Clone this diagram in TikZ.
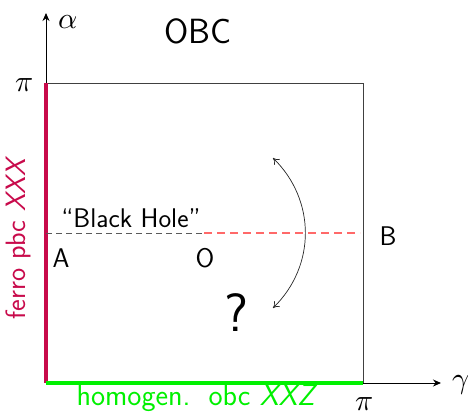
\documentclass[tikz,border=0pt]{standalone}
\usepackage{fontspec}
\usepackage{unicode-math}
\usetikzlibrary{arrows.meta}
\definecolor{ferro}{RGB}{200,10,75}
\definecolor{bhred}{RGB}{255,105,105}
\definecolor{homog}{RGB}{0,240,0}
\begin{document}
\begin{tikzpicture}[x=1pt,y=-1pt,
  lab/.style={font=\sffamily\fontsize{27}{29}\selectfont, inner sep=0pt},
  mlab/.style={font=\fontsize{30}{32}\selectfont, inner sep=0pt, anchor=base},
  boxline/.style={draw=black!75, line width=0.8pt},
  axis/.style={draw=black, line width=1pt, -{Stealth[length=8pt,width=7pt]}}]
\useasboundingbox (0,0) rectangle (468,415);
\coordinate (O0) at (46,383);
\coordinate (TL) at (46,83);
\coordinate (BR) at (363,383);
\coordinate (TR) at (363,83);
\coordinate (ytop) at (46,13);
\coordinate (xend) at (441,383);
% box
\draw[boxline] (TL) -- (TR) -- (BR);
% axes
\draw[axis] (TL) -- (ytop);
\draw[axis] (BR) -- (xend);
% coloured edges
\draw[ferro, line width=4pt] (O0) -- (TL);
\draw[homog, line width=4pt] (O0) -- (BR);
% dashed line
\coordinate (dA) at (46,233);
\coordinate (dM) at (204,233);
\coordinate (dB) at (360,233);
\draw[draw=black!65, dash pattern=on 5.5pt off 4.5pt, line width=1pt] (dA) -- (dM);
\draw[draw=bhred, dash pattern=on 8pt off 5pt, line width=1.3pt] (dM) -- (dB);
% curved arrow
\coordinate (cTop) at (273,158);
\coordinate (cBot) at (273,308);
\draw[black!85, line width=0.7pt, {To[length=6pt,width=8pt]}-{To[length=6pt,width=8pt]}] (cTop) .. controls (316,200) and (316,266) .. (cBot);
% labels
\node[mlab] (alpha) at (68.5,28) {$\alpha$};
\node[font=\sffamily\fontsize{35}{37}\selectfont, inner sep=0pt] (obc) at (198,31) {OBC};
\node[mlab] (piL) at (24.5,91) {$\pi$};
\node[mlab] (piB) at (364.5,410.5) {$\pi$};
\node[mlab] (gamma) at (461,388) {$\gamma$};
\node[font=\sffamily\fontsize{27}{29}\selectfont, inner sep=0pt] (bh) at (131,218) {``Black Hole''};
\node[lab] (A) at (61,258) {A};
\node[lab] (O) at (205,258) {O};
\node[lab] (B) at (388,236) {B};
\node[font=\sffamily\fontsize{54}{56}\selectfont, inner sep=0pt] (q) at (236,313) {?};
\node[font=\sffamily\fontsize{28}{30}\selectfont, inner sep=0pt, ferro, rotate=90] (ferro) at (18,238) {ferro pbc \textit{XXX}};
\node[font=\sffamily\fontsize{30}{32}\selectfont, inner sep=0pt, homog] (hom) at (197,398) {homogen.\hspace{0.6em}obc \textit{XXZ}};
\end{tikzpicture}
\end{document}
